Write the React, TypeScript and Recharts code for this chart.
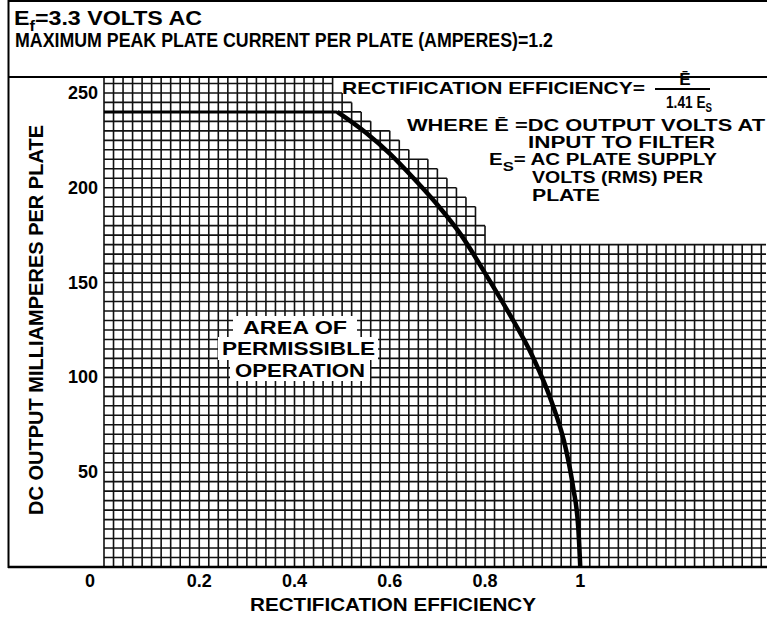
import React from 'react';
import { ComposedChart, Line, XAxis, YAxis, ReferenceLine } from 'recharts';

// ---- data ----
const xTicks = [0, 0.2, 0.4, 0.6, 0.8, 1];
const xTickLabels = ['0', '0.2', '0.4', '0.6', '0.8', '1'];
const yTicks = [50, 100, 150, 200, 250];

const flatX = [0, 0.49];
const flatY = [240, 240];

const curveX = [0.49, 0.55, 0.6, 0.65, 0.7, 0.75, 0.8, 0.85, 0.9, 0.94, 0.97, 0.985, 0.996, 1.0];
const curveY = [240, 229, 218, 205, 191, 175, 155, 134, 111, 87, 62, 42, 20, 0];

// outline of the printed grid paper (upper right is blank)
const gridEdgeX = [0, 0.48, 0.5, 0.56, 0.64, 0.74, 0.78, 0.81, 1.39];
const gridEdgeY = [258.4, 258.4, 248, 236, 222, 199, 187, 170, 170];

const X_MAX = 1.39;
const Y_MAX = 258.4;
const X_STEP = 0.02;
const Y_STEP = 5;

const FONT = '"Liberation Sans", Arial, sans-serif';

const flatData = flatX.map((x, i) => ({ x, y: flatY[i] }));
const curveData = curveX.map((x, i) => ({ x, y: curveY[i] }));

function edgeAt(x: number): number {
  for (let i = 0; i < gridEdgeX.length - 1; i++) {
    const a = gridEdgeX[i], b = gridEdgeX[i + 1];
    if (x >= a && x <= b) {
      const t = b === a ? 0 : (x - a) / (b - a);
      return gridEdgeY[i] + t * (gridEdgeY[i + 1] - gridEdgeY[i]);
    }
  }
  return gridEdgeY[gridEdgeY.length - 1];
}

const nCols = Math.ceil(X_MAX / X_STEP - 1e-9);
const colTops: number[] = [];
for (let i = 0; i < nCols; i++) {
  const e = edgeAt(i * X_STEP + X_STEP / 2);
  colTops.push(e >= Y_MAX - 0.01 ? Y_MAX : Math.floor(e / Y_STEP + 1e-6) * Y_STEP);
}
const vLines: { x: number; top: number }[] = [];
for (let i = 0; i < nCols; i++) {
  const prev = i === 0 ? Y_MAX : colTops[i - 1];
  vLines.push({ x: +(i * X_STEP).toFixed(4), top: Math.max(prev, colTops[i]) });
}
const hLines: { y: number; right: number }[] = [];
for (let j = 1; j * Y_STEP < Y_MAX; j++) {
  const y = j * Y_STEP;
  let k = 0;
  while (k < nCols && colTops[k] >= y) k++;
  hLines.push({ y, right: Math.min(X_MAX, k * X_STEP) });
}

const XTick = (props: any) => {
  const { x, y, payload } = props;
  const isZero = payload.value === 0;
  return (
    <text x={x + (isZero ? -14 : 0)} y={y} dy={12} textAnchor="middle" fontFamily={FONT} fontWeight="bold" fontSize={18} fill="#000">
      {xTickLabels[xTicks.indexOf(payload.value)] ?? String(payload.value)}
    </text>
  );
};

const YTick = (props: any) => {
  const { x, y, payload } = props;
  return (
    <text x={x + 2} y={y} dy={6} textAnchor="end" fontFamily={FONT} fontWeight="bold" fontSize={18} fill="#000">
      {payload.value}
    </text>
  );
};

const txt = { fontFamily: FONT, fontWeight: 'bold' as const, fill: '#000' };

export default function App() {
  return (
    <div style={{ position: 'absolute', left: 0, top: 0, width: 767, height: 619, background: '#fff' }}>
      <ComposedChart width={767} height={619} margin={{ top: 77, right: 1, bottom: 0, left: 0 }}>
        <XAxis
          type="number"
          dataKey="x"
          domain={[0, X_MAX]}
          ticks={xTicks}
          allowDataOverflow
          axisLine={false}
          tickLine={false}
          height={52}
          tick={<XTick />}
          interval={0}
        />
        <YAxis
          type="number"
          dataKey="y"
          domain={[0, Y_MAX]}
          ticks={yTicks}
          allowDataOverflow
          axisLine={false}
          tickLine={false}
          width={104}
          tick={<YTick />}
          interval={0}
        />
        {vLines.map((l) => (
          <ReferenceLine
            key={'v' + l.x}
            segment={[{ x: l.x, y: 0 }, { x: l.x, y: l.top }]}
            stroke="#111"
            strokeWidth={1.6}
            ifOverflow="visible"
          />
        ))}
        {hLines.map((l) => (
          <ReferenceLine
            key={'h' + l.y}
            segment={[{ x: 0, y: l.y }, { x: l.right, y: l.y }]}
            stroke="#111"
            strokeWidth={1.6}
            ifOverflow="visible"
          />
        ))}
        <Line data={flatData} dataKey="y" type="linear" stroke="#000" strokeWidth={3} dot={false} isAnimationActive={false} />
        <Line data={curveData} dataKey="y" type="monotone" stroke="#000" strokeWidth={4.5} dot={false} isAnimationActive={false} />
      </ComposedChart>
      <svg width={767} height={619} style={{ position: 'absolute', left: 0, top: 0, pointerEvents: 'none' }}>
        {/* frame */}
        <line x1={8.5} y1={0} x2={8.5} y2={568} stroke="#000" strokeWidth={2} />
        <line x1={8} y1={1} x2={767} y2={1} stroke="#000" strokeWidth={2} />
        <line x1={8} y1={77} x2={767} y2={77} stroke="#000" strokeWidth={2} />
        <line x1={8} y1={567} x2={767} y2={567} stroke="#000" strokeWidth={2.5} />

        {/* header */}
        <text x={14} y={25} fontSize={20} textLength={188} lengthAdjust="spacingAndGlyphs" {...txt}>
          E<tspan dy={6} fontSize={14}>f</tspan><tspan dy={-6}>=3.3 VOLTS AC</tspan>
        </text>
        <text x={15} y={47} fontSize={20} textLength={538} lengthAdjust="spacingAndGlyphs" {...txt}>
          MAXIMUM PEAK PLATE CURRENT PER PLATE (AMPERES)=1.2
        </text>

        {/* formula */}
        <text x={342} y={94} fontSize={17} textLength={303} lengthAdjust="spacingAndGlyphs" {...txt}>RECTIFICATION EFFICIENCY=</text>
        <line x1={655} y1={89} x2={710} y2={89} stroke="#000" strokeWidth={2} />
        <text x={685} y={85} fontSize={17} textAnchor="middle" {...txt}>Ē</text>
        <text x={666} y={108} fontSize={17} textLength={46} lengthAdjust="spacingAndGlyphs" {...txt}>
          1.41 E<tspan dy={4} fontSize={12}>S</tspan>
        </text>
        <text x={407} y={131} fontSize={16} textLength={358} lengthAdjust="spacingAndGlyphs" {...txt}>WHERE Ē =DC OUTPUT VOLTS AT</text>
        <text x={528} y={148} fontSize={16} textLength={187} lengthAdjust="spacingAndGlyphs" {...txt}>INPUT  TO FILTER</text>
        <text x={489} y={165} fontSize={16} textLength={228} lengthAdjust="spacingAndGlyphs" {...txt}>
          E<tspan dy={6} fontSize={13}>S</tspan><tspan dy={-6}>= AC PLATE SUPPLY</tspan>
        </text>
        <text x={532} y={183} fontSize={16} textLength={171} lengthAdjust="spacingAndGlyphs" {...txt}>VOLTS (RMS) PER</text>
        <text x={532} y={201} fontSize={16} textLength={68} lengthAdjust="spacingAndGlyphs" {...txt}>PLATE</text>

        {/* area label */}
        <rect x={233} y={316} width={124} height={22} fill="#fff" />
        <rect x={218} y={337} width={160} height={23} fill="#fff" />
        <rect x={230} y={359} width={140} height={22} fill="#fff" />
        <text x={243} y={334} fontSize={18} textLength={104} lengthAdjust="spacingAndGlyphs" {...txt}>AREA OF</text>
        <text x={222} y={355} fontSize={18} textLength={153} lengthAdjust="spacingAndGlyphs" {...txt}>PERMISSIBLE</text>
        <text x={235} y={377} fontSize={18} textLength={130} lengthAdjust="spacingAndGlyphs" {...txt}>OPERATION</text>

        {/* axis titles */}
        <text x={43} y={320} fontSize={20} textAnchor="middle" textLength={390} lengthAdjust="spacingAndGlyphs" transform="rotate(-90 43 320)" {...txt}>
          DC OUTPUT MILLIAMPERES PER PLATE
        </text>
        <text x={250} y={611} fontSize={18} textLength={286} lengthAdjust="spacingAndGlyphs" {...txt}>RECTIFICATION EFFICIENCY</text>
      </svg>
    </div>
  );
}
